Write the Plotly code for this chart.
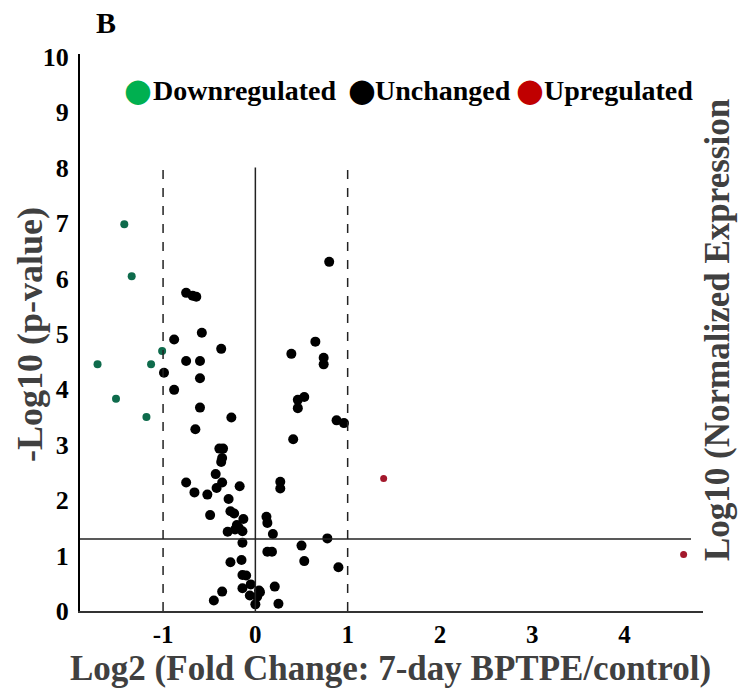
import plotly.graph_objects as go

# ---- data ----
down_x = [-1.42, -1.34, -1.01, -1.71, -1.13, -1.51, -1.18]
down_y = [6.98, 6.04, 4.69, 4.45, 4.45, 3.83, 3.50]

up_x = [1.39, 4.64]
up_y = [2.39, 1.02]

unch_x = [-0.75, -0.68, -0.64, -0.58, -0.88, -0.37, -0.75, -0.60, -0.99, -0.60,
          -0.88, -0.60, -0.26, -0.65, 0.46, 0.53, 0.46, 0.88, 0.96, 0.41,
          -0.39, -0.35, -0.36, -0.37, -0.43, -0.75, -0.36, -0.42, -0.17, -0.66,
          -0.52, 0.27, 0.27, -0.29, -0.49, -0.27, -0.23, -0.13, 0.12, 0.13,
          -0.20, -0.18, -0.22, -0.30, -0.14, 0.19, 0.78, -0.14, 0.50, 0.13,
          0.18, -0.27, -0.15, 0.53, 0.90, -0.14, -0.10, -0.05, -0.14, -0.36,
          0.04, 0.05, 0.21, -0.06, 0.02, -0.45, 0.00, 0.25, 0.80, 0.65,
          0.39, 0.74, 0.74]
unch_y = [5.74, 5.69, 5.67, 5.02, 4.90, 4.73, 4.51, 4.51, 4.30, 4.20,
          3.99, 3.67, 3.49, 3.28, 3.81, 3.86, 3.66, 3.44, 3.39, 3.10,
          2.93, 2.93, 2.76, 2.69, 2.47, 2.32, 2.32, 2.22, 2.25, 2.14,
          2.10, 2.33, 2.21, 2.02, 1.73, 1.80, 1.76, 1.66, 1.70, 1.59,
          1.55, 1.50, 1.47, 1.43, 1.44, 1.39, 1.31, 1.23, 1.18, 1.07,
          1.07, 0.88, 0.92, 0.90, 0.79, 0.65, 0.64, 0.48, 0.41, 0.35,
          0.37, 0.34, 0.44, 0.28, 0.26, 0.19, 0.12, 0.13, 6.30, 4.86,
          4.64, 4.57, 4.45]

fc_thresholds = [-1, 1]      # dashed lines
center_line = 0              # solid vertical
p_threshold = 1.3            # -log10(0.05)
line_top = 8
hline_end = 4.72

x_ticks = [-1, 0, 1, 2, 3, 4]
y_ticks = list(range(0, 11))

legend_names = ["Downregulated", "Unchanged", "Upregulated"]
legend_colors = ["#00b050", "#000000", "#c00000"]

SERIF = "Liberation Serif, Times New Roman, serif"
GRAY = "#404040"

fig = go.Figure()
fig.add_trace(go.Scatter(x=unch_x, y=unch_y, mode="markers",
                         marker=dict(color="black", size=10), showlegend=False))
fig.add_trace(go.Scatter(x=down_x, y=down_y, mode="markers",
                         marker=dict(color="#0e6b4c", size=8), showlegend=False))
fig.add_trace(go.Scatter(x=up_x, y=up_y, mode="markers",
                         marker=dict(color="#a3182c", size=7), showlegend=False))

# reference lines
for xv in fc_thresholds:
    fig.add_shape(type="line", x0=xv, x1=xv, y0=0, y1=line_top, xref="x", yref="y",
                  line=dict(color="#222222", width=1.5, dash="dash"))
fig.add_shape(type="line", x0=center_line, x1=center_line, y0=0, y1=line_top,
              xref="x", yref="y", line=dict(color="#222222", width=1.5))
fig.add_shape(type="line", x0=-1.9, x1=hline_end, y0=p_threshold, y1=p_threshold,
              xref="x", yref="y", line=dict(color="#222222", width=1.5))

# legend as text
legend_x_text = [151, 373, 542]
legend_x_mark = [138, 362, 530]
W, H = 738, 693
L, R, T, B = 80, 35, 54, 82
pw, ph = W - L - R, H - T - B


def px(xp):
    return (xp - L) / pw


def py(yp):
    return (H - B - yp) / ph


def note(x, y, text, size, color, angle=0, xanchor="center", family=SERIF):
    fig.add_annotation(x=px(x), y=py(y), xref="paper", yref="paper", text=text,
                       showarrow=False, xanchor=xanchor, yanchor="middle",
                       textangle=angle, font=dict(size=size, color=color, family=family))


for name, col, xt, xm in zip(legend_names, legend_colors, legend_x_text, legend_x_mark):
    note(xm, 90, "●", 32, col, family="DejaVu Sans")
    note(xt, 90, "<b>%s</b>" % name, 28, "black", xanchor="left")

note(106, 22, "<b>B</b>", 30, "black")
note(390, 668, "<b>Log2 (Fold Change: 7-day BPTPE/control)</b>", 35, GRAY)
note(30, 335, "<b>-Log10 (p-value)</b>", 36, GRAY, angle=-90)
note(717, 330, "<b>Log10 (Normalized Expression</b>", 35, GRAY, angle=-90)

fig.update_xaxes(range=[-1.9, 4.85], tickvals=x_ticks, ticktext=["<b>%d</b>" % v for v in x_ticks],
                 showgrid=False, zeroline=False, showline=True, linecolor="#333333",
                 linewidth=2, ticks="", tickfont=dict(size=25, color="black", family=SERIF),
                 ticklabelstandoff=0)
fig.update_yaxes(range=[0, 10.05], tickvals=y_ticks, ticktext=["<b>%d</b>" % v for v in y_ticks],
                 showgrid=False, zeroline=False, showline=True, linecolor="black",
                 linewidth=2, ticks="", tickfont=dict(size=26, color="black", family=SERIF),
                 ticklabelstandoff=4)

fig.update_layout(width=W, height=H, margin=dict(l=L, r=R, t=T, b=B),
                  plot_bgcolor="white", paper_bgcolor="white", showlegend=False)

fig.write_html("out.html")
